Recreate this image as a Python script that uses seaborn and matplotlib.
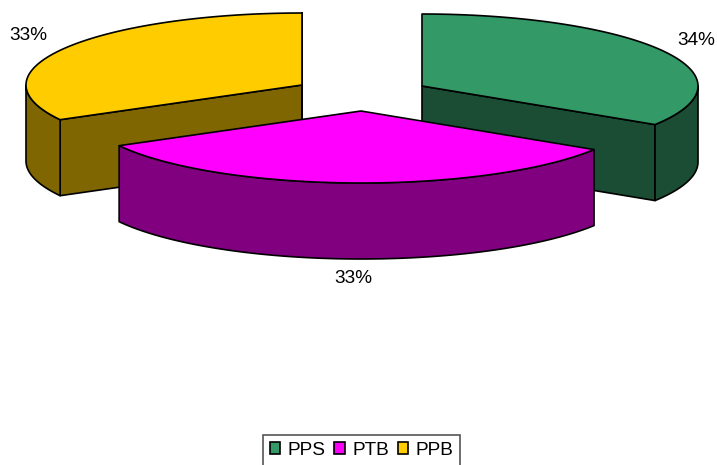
import numpy as np
import matplotlib
matplotlib.use("Agg")
import matplotlib.pyplot as plt
from matplotlib.patches import Patch, Polygon
import seaborn as sns

# Series
categories = ["PPS", "PTB", "PPB"]
shares = [34, 33, 33]
top_colors = ["#339966", "#FF00FF", "#FFCC00"]
side_colors = ["#1A4D33", "#800080", "#806600"]

# Pie geometry, in pixel-like axis units
centers = {"PPS": (422, 86), "PTB": (361, 111), "PPB": (302, 85)}
label_pos = {"PPS": (696, 40.5), "PTB": (353.5, 278), "PPB": (28.5, 35.5)}
RX, RY, DEPTH = 276, 72, 76
EDGE = dict(edgecolor="black", linewidth=1.2, joinstyle="round")

sns.set_theme(style="white", font="Liberation Sans")
plt.rcParams["font.family"] = ["Liberation Sans", "DejaVu Sans"]

fig, ax = plt.subplots(figsize=(7.17, 4.65), dpi=100)
ax.set_position([0, 0, 1, 1])
ax.set_xlim(0, 717)
ax.set_ylim(465, 0)
ax.axis("off")


def rim(cx, cy, a0, a1, n=120):
    """Points along the elliptical rim, angles clockwise from 12 o'clock."""
    t = np.radians(np.linspace(a0, a1, n))
    return np.column_stack([cx + RX * np.sin(t), cy - RY * np.cos(t)])


def draw_slice(name, a0, a1, top, side):
    cx, cy = centers[name]
    apex = np.array([cx, cy])
    drop = np.array([0, DEPTH])
    arc = rim(cx, cy, a0, a1)

    # cut faces that turn toward the viewer
    for edge_angle, visible in ((a0, 180 < a0 % 360), (a1, a1 % 360 < 180)):
        if visible:
            p = rim(cx, cy, edge_angle, edge_angle, 1)[0]
            ax.add_patch(Polygon([apex, p, p + drop, apex + drop],
                                 facecolor=side, zorder=z[name], **EDGE))

    # outer wall: only the part of the rim on the near side or at the far sides
    lo, hi = max(a0, 90), min(a1, 270)
    if lo < hi:
        wall = rim(cx, cy, lo, hi)
        ax.add_patch(Polygon(np.vstack([wall, (wall + drop)[::-1]]),
                             facecolor=side, zorder=z[name], **EDGE))

    ax.add_patch(Polygon(np.vstack([apex, arc]), facecolor=top,
                         zorder=z[name] + 0.5, **EDGE))


# The front slice overlaps the two rear ones
z = {"PPS": 1, "PPB": 1, "PTB": 3}
start = 0.0
total = sum(shares)
for name, share, top, side in zip(categories, shares, top_colors, side_colors):
    end = start + 360 * share / total
    draw_slice(name, start, end, top, side)
    x, y = label_pos[name]
    ax.text(x, y, f"{share / total:.0%}", ha="center", va="center",
            fontsize=13.7, color="black", zorder=5)
    start = end

handles = [Patch(facecolor=c, edgecolor="black", linewidth=1.2) for c in top_colors]
legend = ax.legend(
    handles, categories, ncol=3, loc="center",
    bbox_to_anchor=(361.5, 450.5), bbox_transform=ax.transData,
    fontsize=13.7, labelcolor="black", frameon=True, fancybox=False,
    edgecolor="#555555", facecolor="white", framealpha=1,
    handlelength=0.55, handleheight=0.58, handletextpad=0.38,
    columnspacing=0.48, borderpad=0.36, borderaxespad=0,
)
legend.get_frame().set_linewidth(1.2)

fig.savefig("out.png", dpi=100)
